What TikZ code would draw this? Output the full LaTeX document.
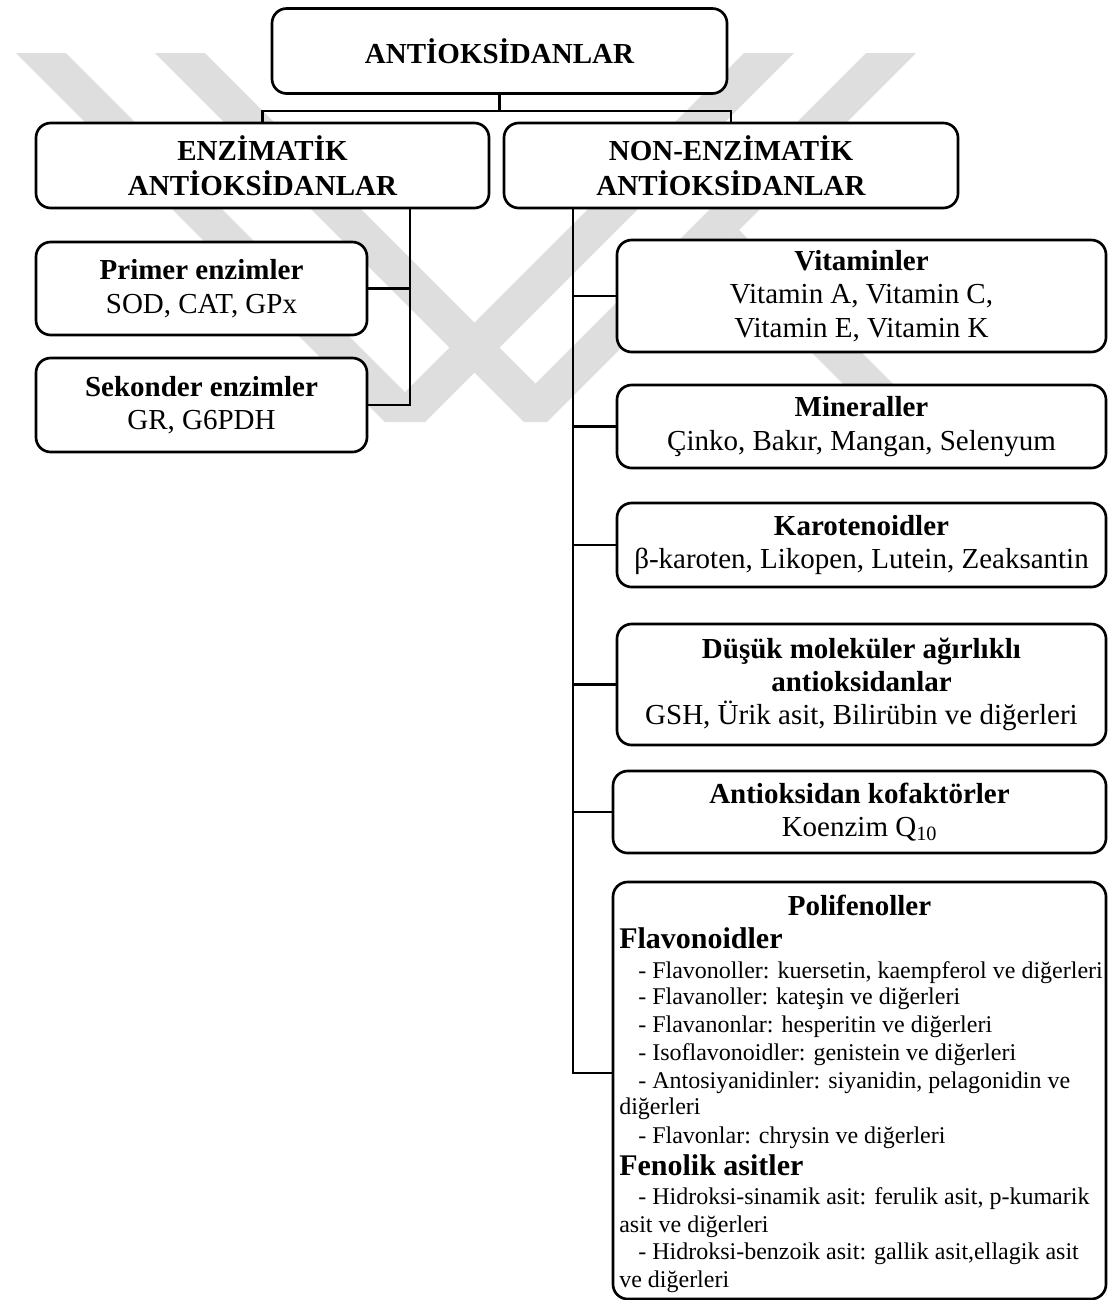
\documentclass[tikz,border=0pt]{standalone}
\usepackage{fontspec}
\setmainfont{Liberation Serif}
\usepackage{tikz}

\tikzset{
	box/.style={draw, line width=2pt, rounded corners=11pt, fill=white, align=center, inner sep=0pt},
	titlebox/.style={box, font=\fontsize{21.75}{26.25}\selectfont\bfseries},
	itembox/.style={box, font=\fontsize{21.75}{25}\selectfont},
	link/.style={line width=2pt},
	watermark/.style={fill=black!13},
	smalltext/.style={anchor=base west, inner sep=0pt, font=\fontsize{18}{20}\selectfont},
	subhead/.style={anchor=base west, inner sep=0pt, font=\fontsize{22.5}{24}\selectfont\bfseries}
}

\begin{document}
\begin{tikzpicture}[x=0.75pt,y=-0.75pt]
	\useasboundingbox (0,0) rectangle (1108,1300);
	% watermark in the background
	\fill[watermark] (16,53) -- (66,53) -- (405,392) -- (744,53) -- (794,53) -- (425,422) -- (385,422) -- cycle;
	\fill[watermark] (155,53) -- (205,53) -- (535.5,383.5) -- (866,53) -- (916,53) -- (547,422) -- (524,422) -- cycle;
	\fill[watermark] (739,230) -- (929,420) -- (879,420) -- (714,255) -- cycle;

	\node[titlebox, minimum width=341.25pt, minimum height=63.75pt] (top) at (499.5,51) {ANTİOKSİDANLAR};
	\node[titlebox, minimum width=339.75pt, minimum height=63.75pt] (enz) at (262.5,165.5) {ENZİMATİK\\ANTİOKSİDANLAR};
	\node[titlebox, minimum width=340.5pt, minimum height=63.75pt] (non) at (731,165.5) {NON-ENZİMATİK\\ANTİOKSİDANLAR};

	\node[itembox, minimum width=248.25pt, minimum height=69.75pt] (primer) at (201.5,288.5) {\textbf{Primer enzimler}\\SOD, CAT, GPx};
	\node[itembox, minimum width=248.25pt, minimum height=70.5pt] (sekonder) at (201.5,405) {\textbf{Sekonder enzimler}\\GR, G6PDH};

	\node[itembox, minimum width=366.75pt, minimum height=84pt] (vit) at (861.5,296) {\textbf{Vitaminler}\\Vitamin A, Vitamin C,\\Vitamin E, Vitamin K};
	\node[itembox, minimum width=366.75pt, minimum height=62.25pt] (min) at (861.5,426.5) {\textbf{Mineraller}\\Çinko, Bakır, Mangan, Selenyum};
	\node[itembox, minimum width=366.75pt, minimum height=63pt] (karot) at (861.5,545) {\textbf{Karotenoidler}\\β-karoten, Likopen, Lutein, Zeaksantin};
	\node[itembox, minimum width=366.75pt, minimum height=90.75pt] (dusuk) at (861.5,684.5) {\textbf{Düşük moleküler ağırlıklı}\\\textbf{antioksidanlar}\\GSH, Ürik asit, Bilirübin ve diğerleri};
	\node[itembox, minimum width=369.75pt, minimum height=61.5pt] (kof) at (859.5,812) {\textbf{Antioksidan kofaktörler}\\Koenzim Q\textsubscript{10}};
	\node[box, minimum width=369.75pt, minimum height=312.75pt] (poli) at (859.5,1090.5) {};

	% contents of the polyphenol box
	\node[anchor=base, inner sep=0pt, font=\fontsize{21.75}{24}\selectfont\bfseries] (politit) at (poli.center |- 0,915) {Polifenoller};
	\node[subhead] (flav) at (619,948) {Flavonoidler};
	\node[subhead] (fenol) at (619,1175) {Fenolik asitler};
	\foreach \x/\y/\txt in {
		638/978/{- Flavonoller: kuersetin, kaempferol ve diğerleri},
		638/1004/{- Flavanoller: kateşin ve diğerleri},
		638/1032/{- Flavanonlar: hesperitin ve diğerleri},
		638/1060/{- Isoflavonoidler: genistein ve diğerleri},
		638/1088/{- Antosiyanidinler: siyanidin, pelagonidin ve},
		619/1114/{diğerleri},
		638/1143/{- Flavonlar: chrysin ve diğerleri},
		638/1204/{- Hidroksi-sinamik asit: ferulik asit, p-kumarik},
		619/1232/{asit ve diğerleri},
		638/1259/{- Hidroksi-benzoik asit: gallik asit,ellagik asit},
		619/1287/{ve diğerleri}
	}
	{
		\node[smalltext] (line\y) at (\x,\y) {\txt};
	}

	% tree connectors
	\draw[link] (top.south) -- ++(0,16) -| (enz.north);
	\draw[link] (top.south) -- ++(0,16) -| (non.north);

	\coordinate (ebus) at (410,0);
	\draw[link] (enz.south -| ebus) |- (sekonder.east);
	\draw[link] (primer.east -| ebus) -- (primer.east);

	\coordinate (nbus) at (573,0);
	\coordinate (pjoin) at (poli.west |- 0,1073);
	\draw[link] (non.south -| nbus) |- (pjoin);
	\foreach \n in {vit,min,karot,dusuk,kof}
		\draw[link] (\n.west -| nbus) -- (\n.west);
\end{tikzpicture}
\end{document}
